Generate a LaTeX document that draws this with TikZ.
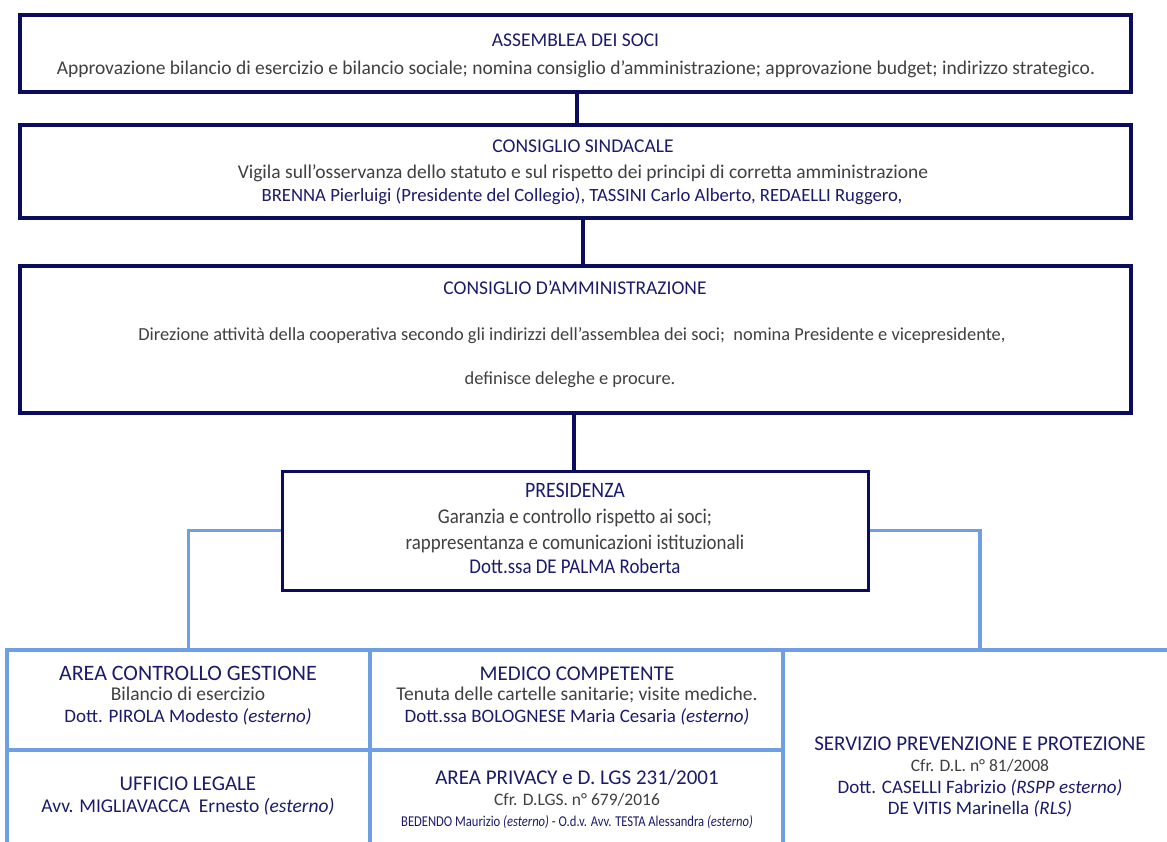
\documentclass[tikz,border=0pt]{standalone}
\usepackage{fontspec}
\setmainfont{Carlito}
\newfontfamily\cond[FakeStretch=0.9]{Carlito}
\newfontfamily\ncond[FakeStretch=0.84]{Carlito}
\definecolor{navy}{HTML}{0C0C5E}
\definecolor{ttl}{HTML}{1B1B6B}
\definecolor{txt}{HTML}{404040}
\definecolor{lblue}{HTML}{6E9FE2}
\begin{document}
\begin{tikzpicture}[x=1pt,y=-1pt,
  navybox/.style={draw=navy, line width=3.8pt, inner sep=0pt, fill=white},
  presbox/.style={draw=navy, line width=3pt, inner sep=0pt, fill=white},
  lbox/.style={draw=lblue, line width=3.5pt, inner sep=0pt},
  navyline/.style={draw=navy, line width=3.8pt},
  bline/.style={draw=lblue, line width=3.5pt},
  tt/.style={anchor=base, inner sep=0pt, text=ttl, font=\fontsize{19.5}{22}\selectfont},
  tb/.style={anchor=base, inner sep=0pt, text=ttl, font=\fontsize{21}{24}\selectfont},
  ds/.style={anchor=base, inner sep=0pt, text=txt, font=\fontsize{19.5}{22}\selectfont},
  cf/.style={anchor=base, inner sep=0pt, text=txt, font=\fontsize{17.5}{20}\selectfont},
  nb/.style={anchor=base, inner sep=0pt, text=ttl, font=\fontsize{19}{22}\selectfont},
  nm/.style={anchor=base, inner sep=0pt, text=ttl, font=\fontsize{18.7}{22}\selectfont},
  sm/.style={anchor=base, inner sep=0pt, text=txt, font=\fontsize{18.4}{21}\selectfont},
  pr/.style={anchor=base, inner sep=0pt, text=txt, font=\cond\fontsize{21}{24}\selectfont},
  tiny/.style={anchor=base, inner sep=0pt, text=ttl, font=\ncond\fontsize{15}{18}\selectfont}
]
\useasboundingbox (0,0) rectangle (1167,841);
\clip (0,0) rectangle (1167,841);
\fill[white] (0,0) rectangle (1167,841);

% top boxes
\node[navybox, minimum width=1111pt, minimum height=77pt] (asm) at (575.5,53.5) {};
\node[navybox, minimum width=1111pt, minimum height=93pt] (sind) at (575.5,171.5) {};
\node[navybox, minimum width=1111pt, minimum height=147pt] (cda) at (575.5,339.5) {};
\node[presbox, minimum width=586pt, minimum height=119pt] (pres) at (575,530.5) {};

% bottom boxes
\node[lbox, minimum width=363pt, minimum height=100pt] (acg) at (188.5,700) {};
\node[lbox, minimum width=413pt, minimum height=100pt] (mc) at (576.5,700) {};
\node[lbox, minimum width=363pt, minimum height=110pt] (ul) at (188.5,805) {};
\node[lbox, minimum width=413pt, minimum height=110pt] (ap) at (576.5,805) {};
\node[lbox, minimum width=394pt, minimum height=210pt] (spp) at (980,755) {};

% connectors
\coordinate (k1) at (577,0);
\coordinate (k2) at (583,0);
\coordinate (k3) at (574,0);
\draw[navyline] (k1 |- asm.south) -- (k1 |- sind.north);
\draw[navyline] (k2 |- sind.south) -- (k2 |- cda.north);
\draw[navyline] (k3 |- cda.south) -- (k3 |- pres.north);
\draw[bline] (pres.west) -| (acg.north);
\draw[bline] (pres.east) -| (spp.north);

% texts: assemblea
\node[tt] (t1) at (575.5,46.5) {ASSEMBLEA DEI SOCI};
\node[ds] (d1) at (576,74.5) {Approvazione bilancio di esercizio e bilancio sociale; nomina consiglio d’amministrazione; approvazione budget; indirizzo strategico.};
% sindacale
\node[tt] (t2) at (583,152.5) {CONSIGLIO SINDACALE};
\node[ds] (d2) at (583,178.5) {Vigila sull’osservanza dello statuto e sul rispetto dei principi di corretta amministrazione};
\node[nm] (n2) at (582,201) {BRENNA Pierluigi (Presidente del Collegio), TASSINI Carlo Alberto, REDAELLI Ruggero,};
% cda
\node[tt] (t3) at (575,294.5) {CONSIGLIO D’AMMINISTRAZIONE};
\node[sm] (d3a) at (572,340) {Direzione attività della cooperativa secondo gli indirizzi dell’assemblea dei soci;\ \ nomina Presidente e vicepresidente,};
\node[sm] (d3b) at (570,384) {definisce deleghe e procure.};
% presidenza
\node[tt, font=\cond\fontsize{22}{24}\selectfont] (t4) at (575,497) {PRESIDENZA};
\node[pr] (d4a) at (575,523) {Garanzia e controllo rispetto ai soci;};
\node[pr] (d4b) at (575,549) {rappresentanza e comunicazioni istituzionali};
\node[pr, text=ttl] (n4) at (575,573) {Dott.ssa DE PALMA Roberta};
% area controllo gestione
\node[tb, font=\fontsize{22}{24}\selectfont] (t5) at (188,680) {AREA CONTROLLO GESTIONE};
\node[ds] (d5) at (188,700.5) {Bilancio di esercizio};
\node[nb] (n5) at (188,722.5) {Dott. PIROLA Modesto \textit{(esterno)}};
% medico
\node[tb] (t6) at (577,680) {MEDICO COMPETENTE};
\node[ds] (d6) at (577,700.5) {Tenuta delle cartelle sanitarie; visite mediche.};
\node[nb] (n6) at (577,722.5) {Dott.ssa BOLOGNESE Maria Cesaria \textit{(esterno)}};
% ufficio legale
\node[tb] (t7) at (188,790) {UFFICIO LEGALE};
\node[nb, font=\fontsize{19.5}{22}\selectfont] (n7) at (188,812.5) {Avv. MIGLIAVACCA\ \ Ernesto \textit{(esterno)}};
% privacy
\node[tb] (t8) at (577,784) {AREA PRIVACY e D. LGS 231/2001};
\node[cf] (d8) at (577,805.5) {Cfr. D.LGS. n° 679/2016};
\node[tiny] (n8) at (577,826) {BEDENDO Maurizio \textit{(esterno)} - O.d.v. Avv. TESTA Alessandra \textit{(esterno)}};
% spp
\node[tb] (t9) at (980,750) {SERVIZIO PREVENZIONE E PROTEZIONE};
\node[cf] (d9) at (980,771) {Cfr. D.L. n° 81/2008};
\node[nb] (n9a) at (980,793) {Dott. CASELLI Fabrizio \textit{(RSPP esterno)}};
\node[nb] (n9b) at (980,814.5) {DE VITIS Marinella \textit{(RLS)}};
\end{tikzpicture}
\end{document}
